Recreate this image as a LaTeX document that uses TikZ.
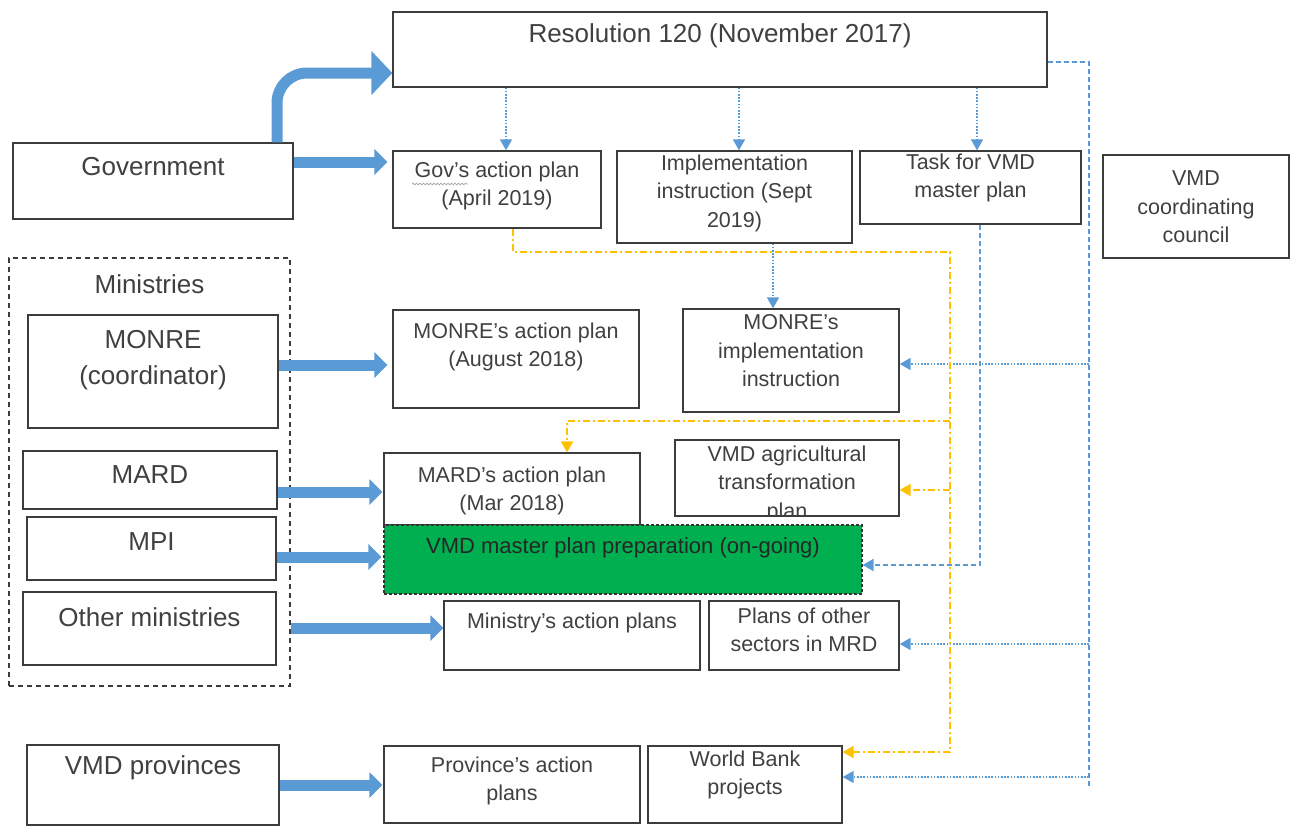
\documentclass[tikz,border=0pt]{standalone}
\usepackage{fontspec}
\setmainfont{Liberation Sans}
\usetikzlibrary{arrows.meta,fit,decorations.pathmorphing}
\definecolor{bl}{HTML}{5B9BD5}
\definecolor{orn}{HTML}{FFC000}
\definecolor{grn}{HTML}{00B050}
\definecolor{txtc}{HTML}{404040}
\definecolor{brd}{HTML}{3C3C3C}
\newcommand\BigTxt{\fontsize{26}{36}\selectfont}
\newcommand\SmTxt{\fontsize{21.5}{28.5}\selectfont}
\begin{document}
\begin{tikzpicture}[x=1pt,y=-1pt,
  box/.style={draw=brd, line width=1.3pt, fill=white, inner sep=0pt},
  lbl/.style={text=txtc, align=center, inner sep=0pt},
  big/.style={lbl, font=\BigTxt},
  sm/.style={lbl, font=\SmTxt},
  bigar/.style={draw=bl, line width=11pt, -{Triangle[length=13pt,width=25pt]}},
  tri/.style={-{Triangle[length=11pt,width=12pt]}},
  bdot/.style={draw=bl, line width=1.5pt, dash pattern=on 1.6pt off 1.6pt},
  bdash/.style={draw=bl, line width=1.9pt, dash pattern=on 5pt off 3pt},
  odash/.style={draw=orn, line width=1.9pt, dash pattern=on 7pt off 3pt on 2pt off 3pt},
]
\useasboundingbox (0,0) rectangle (1292,827);

% boxes
\node[box, fit={(393,12)(1047,87)}] (res) {};
\node[big] (res-t) at (res.center |- 0,36) {Resolution 120 (November 2017)};

\node[box, fit={(13,143)(293,219)}] (gov) {};
\node[big] (gov-t) at (gov.center |- 0,167) {Government};

\node[box, fit={(393,151)(601,228)}] (govplan) {};
\node[sm] (govplan-t) at (govplan.center |- 0,186) {Gov’s action plan\\(April 2019)};
\draw[gray!70, line width=0.7pt, decorate, decoration={snake, segment length=3.5pt, amplitude=0.9pt}] (412,184) -- (468,184);

\node[box, fit={(617,151)(852,243)}] (impl) {};
\node[sm] (impl-t) at (impl.center |- 0,193) {Implementation\\instruction (Sept\\2019)};

\node[box, fit={(860,151)(1081,224)}] (task) {};
\node[sm] (task-t) at (task.center |- 0,178) {Task for VMD\\master plan};

\node[box, fit={(1103,155)(1289,258)}] (council) {};
\node[sm] (council-t) at (council.center |- 0,207) {VMD\\coordinating\\council};

\node[draw=brd, line width=1.3pt, dash pattern=on 5pt off 4pt, inner sep=0pt, fit={(9,258)(290,686)}] (mins) {};
\node[big] (mins-t) at (mins.center |- 0,284) {Ministries};

\node[box, fit={(28,315)(278,428)}] (monre) {};
\node[big] (monre-t) at (monre.center |- 0,360) {MONRE\\(coordinator)};

\node[box, fit={(393,310)(639,408)}] (monreplan) {};
\node[sm] (monreplan-t) at (monreplan.center |- 0,347) {MONRE’s action plan\\(August 2018)};

\node[box, fit={(683,309)(899,412)}] (monreimpl) {};
\node[sm] (monreimpl-t) at (monreimpl.center |- 0,351) {MONRE’s\\implementation\\instruction};

\node[box, fit={(23,451)(277,509)}] (mard) {};
\node[big] (mard-t) at (mard.center |- 0,475) {MARD};

\node[box, fit={(384,453)(640,525)}] (mardplan) {};
\node[sm] (mardplan-t) at (mardplan.center |- 0,491) {MARD’s action plan\\(Mar 2018)};

\node[box, fit={(675,440)(899,516)}] (agri) {};
\begin{scope}
\clip (675,440) rectangle (899,516);
\node[sm] (agri-t) at (agri.center |- 0,484) {VMD agricultural\\transformation\\plan};
\end{scope}
\draw[draw=brd, line width=1.3pt] (agri.south west) rectangle (agri.north east);

\node[box, fit={(27,517)(276,580)}] (mpi) {};
\node[big] (mpi-t) at (mpi.center |- 0,542) {MPI};

\node[draw=black!80, line width=1.2pt, dash pattern=on 3pt off 2pt, fill=grn, inner sep=0pt, fit={(384,525)(862,594)}] (green) {};
\node[lbl, font=\fontsize{22}{28}\selectfont, text=black!85] (green-t) at (green.center |- 0,548) {VMD master plan preparation (on-going)};

\node[box, fit={(23,592)(276,665)}] (other) {};
\node[big] (other-t) at (other.center |- 0,617) {Other ministries};

\node[box, fit={(444,601)(700,670)}] (minplan) {};
\node[sm] (minplan-t) at (minplan.center |- 0,623) {Ministry’s action plans};

\node[box, fit={(709,601)(899,670)}] (sectors) {};
\node[sm] (sectors-t) at (sectors.center |- 0,630) {Plans of other\\sectors in MRD};

\node[box, fit={(27,745)(279,825)}] (prov) {};
\node[big] (prov-t) at (prov.center |- 0,768) {VMD provinces};

\node[box, fit={(384,746)(640,823)}] (provplan) {};
\node[sm] (provplan-t) at (provplan.center |- 0,781) {Province’s action\\plans};

\node[box, fit={(648,746)(842,823)}] (wb) {};
\node[sm] (wb-t) at (wb.center |- 0,775) {World Bank\\projects};

% thick blue arrows
\draw[bigar, -{Triangle[length=21pt,width=43pt]}, rounded corners=30pt] (gov.north -| 277,0) |- (res.west |- 0,73);
\draw[bigar, shorten >=5pt] (gov.east |- 0,162) -- (govplan.west |- 0,162);
\draw[bigar, shorten >=5pt] (monre.east |- 0,365) -- (monreplan.west |- 0,365);
\draw[bigar, shorten >=1pt] (mard.east |- 0,492) -- (mardplan.west |- 0,492);
\draw[bigar, shorten >=2pt] (mpi.east |- 0,557) -- (green.west |- 0,557);
\draw[bigar] (mins.east |- 0,628) -- (minplan.west |- 0,628);
\draw[bigar, shorten >=1pt] (prov.east |- 0,785) -- (provplan.west |- 0,785);

% thin blue connectors
\draw[bdot, tri, bl] (res.south -| 506,0) -- (govplan.north -| 506,0);
\draw[bdot, tri, bl] (res.south -| 739,0) -- (impl.north -| 739,0);
\draw[bdot, tri, bl] (res.south -| 977,0) -- (task.north -| 977,0);
\draw[bdot, tri, bl] (impl.south -| 773,0) -- (monreimpl.north -| 773,0);
\draw[bdash, tri, bl] (task.south -| 980,0) |- (green.east |- 0,565);

\coordinate (rvtop) at (1089,62);
\coordinate (rvbot) at (1089,787);
\draw[bdash] (res.east |- rvtop) -- (rvtop) -- (rvbot);
\draw[bdot, tri, bl] (rvtop |- 0,364) -- (monreimpl.east |- 0,364);
\draw[bdot, tri, bl] (rvtop |- 0,644) -- (sectors.east |- 0,644);
\draw[bdot, tri, bl] (rvtop |- 0,777) -- (wb.east |- 0,777);

% orange connectors
\coordinate (oc) at (950,252);
\draw[odash, tri, orn] (govplan.south -| 513,0) |- (oc) |- (wb.east |- 0,752);
\draw[odash, tri, orn] (oc |- 0,421) -| (mardplan.north -| 567,0);
\draw[odash, tri, orn] (oc |- 0,490) -- (agri.east |- 0,490);
\end{tikzpicture}
\end{document}
